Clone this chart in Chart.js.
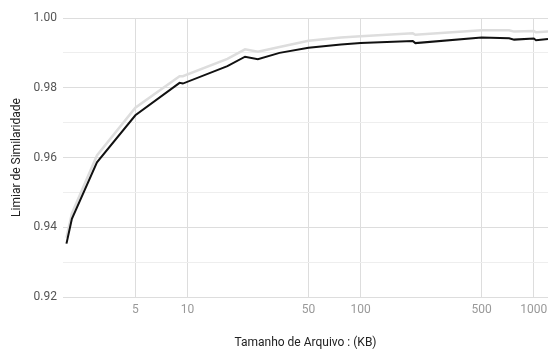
<!DOCTYPE html>
<html>
<head>
<meta charset="utf-8">
<script src="https://cdn.jsdelivr.net/npm/chart.js"></script>
<style>
  html, body { margin: 0; padding: 0; background: #fff; }
  #wrap { width: 548px; height: 350px; }
</style>
</head>
<body>
<div id="wrap"><canvas id="grafico"></canvas></div>
<script>
// tamanhos de arquivo (KB) e limiares
const tamanhos = [2, 2.15, 3, 5, 9, 9.4, 17, 21.5, 25.5, 34, 50, 77, 100, 200, 207, 500, 720, 770, 1000, 1030, 1208];
const limiarPreto = [0.9353, 0.9424, 0.9586, 0.9721, 0.9814, 0.9812, 0.9862, 0.9889, 0.9882, 0.9900, 0.9915, 0.9924, 0.9928, 0.9934, 0.9928, 0.9944, 0.9942, 0.9938, 0.9941, 0.9936, 0.9940];
const limiarCinza = [0.9370, 0.9440, 0.9606, 0.9743, 0.9833, 0.9833, 0.9883, 0.9910, 0.9903, 0.9917, 0.9935, 0.9944, 0.9948, 0.9956, 0.9952, 0.9965, 0.9965, 0.9961, 0.9963, 0.9959, 0.9961];
const ticksX = [5, 10, 50, 100, 500, 1000];
const ticksY = [0.92, 0.94, 0.96, 0.98, 1.00];

function pontos(valores) {
    return tamanhos.map((t, i) => ({ x: t, y: valores[i] }));
}

const ctx = document.getElementById('grafico').getContext('2d');
new Chart(ctx, {
    type: 'line',
    data: {
        datasets: [
            {
                label: 'preto',
                data: pontos(limiarPreto),
                borderColor: '#111111',
                borderWidth: 2,
                pointRadius: 0,
                tension: 0,
                fill: false
            },
            {
                label: 'cinza',
                data: pontos(limiarCinza),
                borderColor: '#dddddd',
                borderWidth: 2.5,
                pointRadius: 0,
                tension: 0,
                fill: false
            }
        ]
    },
    options: {
        responsive: true,
        maintainAspectRatio: false,
        animation: false,
        layout: { padding: { top: 18, right: 0, left: 0, bottom: 0 } },
        plugins: {
            legend: { display: false },
            tooltip: { enabled: false }
        },
        scales: {
            x: {
                type: 'logarithmic',
                min: 1.91,
                max: 1208,
                afterBuildTicks: (scale) => {
                    scale.ticks = ticksX.map(v => ({ value: v }));
                },
                afterFit: (scale) => {
                    scale.height = 53;
                    scale.paddingLeft = 0;
                    scale.paddingRight = 0;
                },
                ticks: {
                    autoSkip: false,
                    maxRotation: 0,
                    color: '#999999',
                    font: { family: 'Roboto', size: 12 },
                    padding: 6,
                    callback: (v) => String(v)
                },
                grid: { color: '#dddddd', lineWidth: 1, drawTicks: false },
                border: { display: false },
                title: {
                    display: true,
                    text: 'Tamanho de Arquivo : (KB)',
                    color: '#222222',
                    font: { family: 'Roboto', size: 12 },
                    padding: { top: 16, bottom: 0 }
                }
            },
            y: {
                min: 0.92,
                max: 1.00,
                afterFit: (scale) => {
                    scale.width = 63;
                    scale.paddingTop = 0;
                    scale.paddingBottom = 0;
                },
                ticks: {
                    stepSize: 0.01,
                    color: '#555555',
                    font: { family: 'Roboto', size: 12 },
                    padding: 6,
                    callback: (v) => {
                        const hit = ticksY.find(t => Math.abs(t - v) < 1e-6);
                        return hit !== undefined ? hit.toFixed(2) : '';
                    }
                },
                grid: {
                    drawTicks: false,
                    color: (c) => {
                        const v = c.tick ? c.tick.value : 0;
                        return ticksY.some(t => Math.abs(t - v) < 1e-6) ? '#dddddd' : '#eeeeee';
                    },
                    lineWidth: 1
                },
                border: { display: false },
                title: {
                    display: true,
                    text: 'Limiar de Similaridade',
                    color: '#222222',
                    font: { family: 'Roboto', size: 12 },
                    padding: { top: 10, bottom: 2 }
                }
            }
        }
    }
});
</script>
</body>
</html>
